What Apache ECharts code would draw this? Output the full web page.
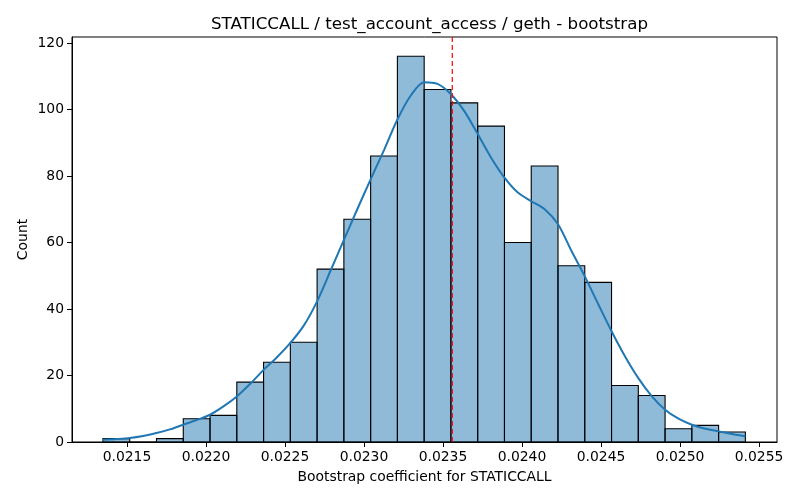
<!DOCTYPE html>
<html>
<head>
<meta charset="utf-8">
<script src="https://cdn.jsdelivr.net/npm/echarts@6/dist/echarts.min.js"></script>
<style>html,body{margin:0;padding:0;background:#fff}#c{width:800px;height:500px}</style>
</head>
<body>
<div id="c"></div>
<script>
// Histogram bins (left edge, bin width) and counts
const binStart = 0.0213483;
const binWidth = 0.00016939;
const counts = [1, 0, 1, 7, 8, 18, 24, 30, 52, 67, 86, 116, 106, 102, 95, 60, 83, 53, 48, 17, 14, 4, 5, 3];
// KDE curve (x in data units, y in counts)
const kdeX = [0.0213483, 0.0214330, 0.0215177, 0.0216024, 0.0216871, 0.0217718, 0.0218565, 0.0219412, 0.0220259, 0.0221106,
  0.0221953, 0.0222800, 0.0223647, 0.0224494, 0.0225341, 0.0226188, 0.0227035, 0.0227882, 0.0228729, 0.0229576,
  0.0230422, 0.0231269, 0.0232116, 0.0232963, 0.0233810, 0.0234657, 0.0235504, 0.0236351, 0.0237198, 0.0238045,
  0.0238892, 0.0239739, 0.0240586, 0.0241433, 0.0242280, 0.0243127, 0.0243974, 0.0244821, 0.0245668, 0.0246515,
  0.0247362, 0.0248209, 0.0249056, 0.0249903, 0.0250750, 0.0251597, 0.0252444, 0.0253291, 0.0254137];
const kdeY = [0.7, 0.9, 1.2, 1.8, 2.7, 3.8, 5.2, 6.6, 8.2, 10.7,
  13.7, 17.5, 21.7, 25.5, 29.8, 35.0, 42.3, 51.5, 60.8, 70.0,
  79.0, 87.8, 97.0, 104.2, 108.2, 107.7, 104.6, 99.5, 92.6, 85.5,
  79.5, 75.0, 72.4, 70.0, 65.5, 57.5, 49.8, 41.5, 33.3, 25.8,
  19.2, 13.8, 9.7, 7.0, 5.2, 4.0, 3.2, 2.4, 1.7];
const meanLine = 0.0235588;
const xTicks = [0.0215, 0.0220, 0.0225, 0.0230, 0.0235, 0.0240, 0.0245, 0.0250, 0.0255];
const yTicks = [0, 20, 40, 60, 80, 100, 120];
const yMax = 121.8;
const titleText = 'STATICCALL / test_account_access / geth - bootstrap';
const xName = 'Bootstrap coefficient for STATICCALL';
const yName = 'Count';

const barData = counts.map((c, i) => [binStart + i * binWidth, binStart + (i + 1) * binWidth, c]);
const kdeData = kdeX.map((x, i) => [x, kdeY[i]]);

const font = 'DejaVu Sans';
const chart = echarts.init(document.getElementById('c'), null, {renderer: 'canvas'});
chart.setOption({
  animation: false,
  backgroundColor: '#fff',
  title: {
    text: titleText, left: 424.5, top: 11, textAlign: 'center',
    textStyle: {fontFamily: font, fontSize: 16.7, fontWeight: 'normal', color: '#000'}
  },
  grid: {left: 72, right: 23, top: 37, bottom: 58, show: true, borderColor: '#000', borderWidth: 1, backgroundColor: 'transparent'},
  xAxis: {
    type: 'value', min: 0.0211523, max: 0.0256138,
    name: xName, nameLocation: 'middle', nameGap: 28, nameMoveOverlap: false,
    nameTextStyle: {fontFamily: font, fontSize: 13.9, color: '#000'},
    axisLine: {show: true, lineStyle: {color: '#000', width: 1}},
    axisTick: {show: true, customValues: xTicks, length: 5, lineStyle: {color: '#000'}},
    axisLabel: {customValues: xTicks, formatter: v => v.toFixed(4), fontFamily: font, fontSize: 13.9, color: '#000', margin: 8},
    splitLine: {show: false}
  },
  yAxis: {
    type: 'value', min: 0, max: yMax,
    name: yName, nameLocation: 'middle', nameGap: 42, nameRotate: 90, nameMoveOverlap: false,
    nameTextStyle: {fontFamily: font, fontSize: 13.9, color: '#000'},
    axisLine: {show: true, lineStyle: {color: '#000', width: 1}},
    axisTick: {show: true, customValues: yTicks, length: 5, lineStyle: {color: '#000'}},
    axisLabel: {customValues: yTicks, fontFamily: font, fontSize: 13.9, color: '#000', margin: 8},
    splitLine: {show: false}
  },
  series: [
    {
      type: 'custom',
      data: barData,
      encode: {x: [0, 1], y: 2},
      renderItem: function (params, api) {
        const p0 = api.coord([api.value(0), api.value(2)]);
        const p1 = api.coord([api.value(1), 0]);
        return {
          type: 'rect',
          shape: {x: p0[0], y: p0[1], width: p1[0] - p0[0], height: p1[1] - p0[1]},
          style: {fill: 'rgba(31,119,180,0.5)', stroke: '#000', lineWidth: 1.1}
        };
      },
      z: 2
    },
    {
      type: 'line',
      data: kdeData,
      smooth: 0.3,
      showSymbol: false,
      lineStyle: {color: '#1f77b4', width: 2},
      z: 3
    },
    {
      type: 'line',
      data: [[meanLine, 0], [meanLine, yMax]],
      showSymbol: false,
      lineStyle: {color: '#ff0000', type: [5, 3], width: 1.2},
      z: 4
    }
  ]
});
</script>
</body>
</html>
